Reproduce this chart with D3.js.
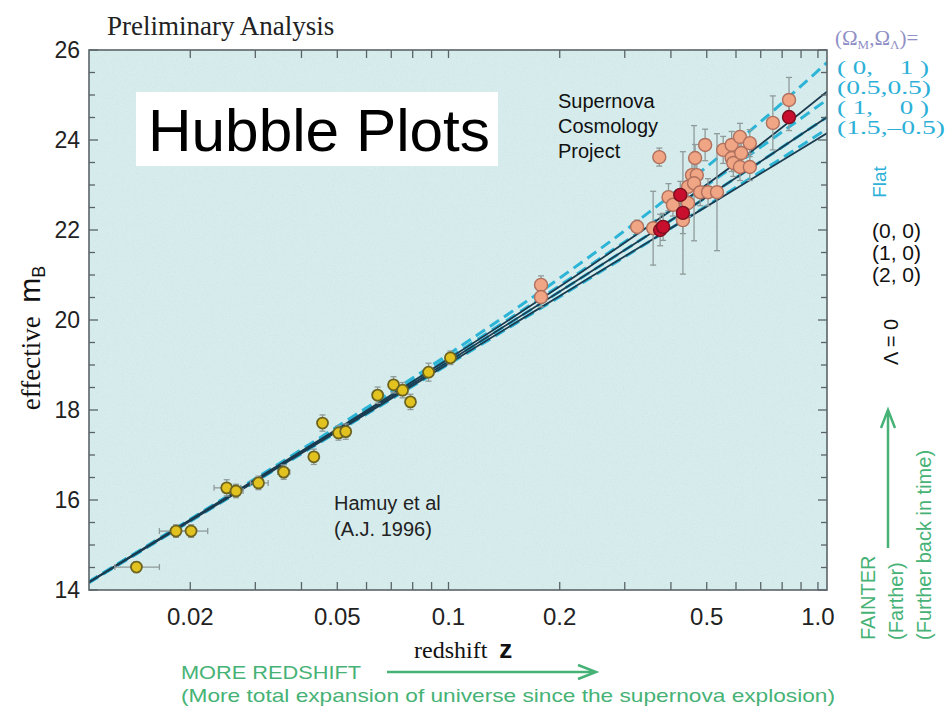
<!DOCTYPE html>
<html>
<head>
<meta charset="utf-8">
<script src="https://cdn.jsdelivr.net/npm/d3@7"></script>
<style>
  body { margin: 0; background: #fff; }
  svg { display: block; }
  text { white-space: pre; }
</style>
</head>
<body>
<script>
// Hubble diagram: effective m_B against redshift z (log axis)

// low-redshift supernovae (Hamuy et al 1996)
const hamuyZ   = [0.0143, 0.0183, 0.0201, 0.0251, 0.0266, 0.0306, 0.0358, 0.0432, 0.0456, 0.0504, 0.0527, 0.0643, 0.0710, 0.0751, 0.0789, 0.0883, 0.1012];
const hamuyM   = [14.51, 15.31, 15.31, 16.27, 16.20, 16.38, 16.62, 16.96, 17.71, 17.49, 17.52, 18.33, 18.56, 18.44, 18.18, 18.84, 19.16];
const hamuyZLo = [0.0125, 0.0165, 0.0186, 0.0232, 0.0255, 0.0291, 0.0345, 0.0420, 0.0445, 0.0492, 0.0515, 0.0628, 0.0695, 0.0737, 0.0775, 0.0866, 0.0995];
const hamuyZHi = [0.0165, 0.0202, 0.0223, 0.0274, 0.0278, 0.0325, 0.0372, 0.0444, 0.0467, 0.0516, 0.0540, 0.0658, 0.0725, 0.0766, 0.0803, 0.0900, 0.1030];
const hamuyErr = [0.12, 0.14, 0.14, 0.18, 0.15, 0.15, 0.16, 0.17, 0.18, 0.16, 0.17, 0.18, 0.18, 0.17, 0.17, 0.20, 0.15];

// Supernova Cosmology Project
const scpZ   = [0.178, 0.178, 0.324, 0.358, 0.374, 0.381, 0.372, 0.394, 0.405, 0.424, 0.431, 0.431, 0.445, 0.445, 0.456, 0.470, 0.465, 0.462, 0.480, 0.495, 0.504, 0.533, 0.554, 0.584, 0.615, 0.654, 0.584, 0.590, 0.620, 0.615, 0.654, 0.755, 0.835, 0.835];
const scpM   = [20.78, 20.51, 22.07, 22.04, 22.00, 22.07, 23.62, 22.73, 22.56, 22.78, 22.38, 22.22, 22.60, 22.96, 23.22, 23.22, 23.60, 23.04, 22.84, 23.89, 22.84, 22.84, 23.78, 23.89, 24.07, 23.93, 23.60, 23.49, 23.71, 23.40, 23.40, 24.38, 24.89, 24.51];
const scpErr = [0.20, 0.22, 0.15, 0.82, 0.35, 0.30, 0.20, 0.30, 0.25, 0.30, 1.36, 0.30, 0.30, 0.30, 0.30, 0.30, 0.30, 1.28, 0.30, 0.35, 0.30, 1.30, 0.30, 0.30, 0.30, 0.30, 0.30, 0.30, 0.30, 0.30, 0.30, 0.60, 0.50, 0.30];
const scpRed = [0, 0, 0, 0, 1, 1, 0, 0, 0, 1, 1, 0, 0, 0, 0, 0, 0, 0, 0, 0, 0, 0, 0, 0, 0, 0, 0, 0, 0, 0, 0, 0, 0, 1];

// model curves: (Omega_M, Omega_Lambda)
const curveZ = [0.0106, 0.05, 0.1, 0.2, 0.35, 0.5, 0.7, 1.057];
const m_0_0  = [14.168, 17.578, 19.136, 20.742, 22.100, 23.010, 23.907, 25.072];
const m_1_0  = [14.163, 17.551, 19.079, 20.632, 21.907, 22.734, 23.524, 24.507];
const m_2_0  = [14.157, 17.525, 19.030, 20.535, 21.750, 22.525, 23.255, 24.150];
const m_0_1  = [14.179, 17.631, 19.237, 20.931, 22.402, 23.405, 24.408, 25.717];
const m_h_h  = [14.171, 17.592, 19.155, 20.766, 22.113, 22.996, 23.842, 24.892];
const m_15_m = [14.154, 17.511, 19.014, 20.518, 21.744, 22.537, 23.297, 24.245];

// axes
const xLabelTicks = [0.02, 0.05, 0.1, 0.2, 0.5, 1.0];
const xLabelText  = ["0.02", "0.05", "0.1", "0.2", "0.5", "1.0"];
const xTickMarks  = [0.02, 0.03, 0.04, 0.05, 0.06, 0.07, 0.08, 0.09, 0.1, 0.2, 0.3, 0.4, 0.5, 0.6, 0.7, 0.8, 0.9, 1.0];
const yLabelTicks = [14, 16, 18, 20, 22, 24, 26];
const yMinorTicks = d3.range(14, 26.01, 0.5);

// legend text
const flatLabels = ["( 0,    1 )", "(0.5,0.5)", "( 1,    0 )", "(1.5,\u20130.5)"];
const flatWidths = [92, 94, 92, 108];
const openLabels = ["(0, 0)", "(1, 0)", "(2, 0)"];

const width = 949, height = 711;
const pLeft = 89, pRight = 827, pTop = 50, pBottom = 590;

const x = d3.scaleLog().domain([0.01064, 1.058]).range([pLeft, pRight]);
const y = d3.scaleLinear().domain([14, 26]).range([pBottom, pTop]);

const svg = d3.select("body").append("svg")
  .attr("width", width)
  .attr("height", height);

const defs = svg.append("defs");

// grainy texture on the plot background
const grain = defs.append("filter").attr("id", "grain")
  .attr("x", 0).attr("y", 0).attr("width", "100%").attr("height", "100%");
grain.append("feTurbulence")
  .attr("type", "fractalNoise").attr("baseFrequency", 0.9).attr("numOctaves", 2).attr("seed", 4).attr("result", "noise");
grain.append("feColorMatrix").attr("in", "noise").attr("type", "matrix")
  .attr("values", "0 0 0 0 0.55  0 0 0 0 0.65  0 0 0 0 0.66  0 0 0 -1.6 0.85");

defs.append("clipPath").attr("id", "plotclip")
  .append("rect")
  .attr("x", pLeft).attr("y", pTop)
  .attr("width", pRight - pLeft).attr("height", pBottom - pTop);

// background
svg.append("rect")
  .attr("x", pLeft).attr("y", pTop)
  .attr("width", pRight - pLeft).attr("height", pBottom - pTop)
  .attr("fill", "#d7eded");
svg.append("rect")
  .attr("x", pLeft).attr("y", pTop)
  .attr("width", pRight - pLeft).attr("height", pBottom - pTop)
  .attr("fill", "#fff")
  .attr("filter", "url(#grain)")
  .attr("opacity", 0.5);

// "Hubble Plots" white box
svg.append("rect")
  .attr("x", 136).attr("y", 92)
  .attr("width", 362).attr("height", 74)
  .attr("fill", "#fff");
svg.append("text")
  .attr("x", 148).attr("y", 151)
  .attr("font-family", "Liberation Sans, Arial, sans-serif")
  .attr("font-size", 59)
  .attr("textLength", 342).attr("lengthAdjust", "spacingAndGlyphs")
  .attr("fill", "#000")
  .text("Hubble Plots");

// model curves
const plot = svg.append("g").attr("clip-path", "url(#plotclip)");
const line = d3.line()
  .x(d => x(d[0]))
  .y(d => y(d[1]))
  .curve(d3.curveMonotoneX);

const solidCurves = [m_0_0, m_1_0, m_2_0];
const dashedCurves = [m_0_1, m_h_h, m_1_0, m_15_m];

plot.selectAll("path.dashed")
  .data(dashedCurves)
  .join("path")
  .attr("class", "dashed")
  .attr("d", m => line(curveZ.map((z, i) => [z, m[i]])))
  .attr("fill", "none")
  .attr("stroke", "#2cb4d6")
  .attr("stroke-width", 3)
  .attr("stroke-dasharray", "11,6");

plot.selectAll("path.solid")
  .data(solidCurves)
  .join("path")
  .attr("class", "solid")
  .attr("d", m => line(curveZ.map((z, i) => [z, m[i]])))
  .attr("fill", "none")
  .attr("stroke", "#1b3c50")
  .attr("stroke-width", 1.8);

// error bars
const errColor = "#8f9a9a";
const hamuy = hamuyZ.map((z, i) => ({ z, m: hamuyM[i], lo: hamuyZLo[i], hi: hamuyZHi[i], e: hamuyErr[i] }));
const scp = scpZ.map((z, i) => ({ z, m: scpM[i], e: scpErr[i], red: scpRed[i] === 1 }));

const errs = plot.append("g")
  .attr("stroke", errColor)
  .attr("stroke-width", 1.3)
  .attr("fill", "none");

hamuy.forEach(d => {
  const cx = x(d.z), cy = y(d.m);
  errs.append("line").attr("x1", x(d.lo)).attr("x2", x(d.hi)).attr("y1", cy).attr("y2", cy);
  errs.append("line").attr("x1", x(d.lo)).attr("x2", x(d.lo)).attr("y1", cy - 3).attr("y2", cy + 3);
  errs.append("line").attr("x1", x(d.hi)).attr("x2", x(d.hi)).attr("y1", cy - 3).attr("y2", cy + 3);
  errs.append("line").attr("x1", cx).attr("x2", cx).attr("y1", y(d.m + d.e)).attr("y2", y(d.m - d.e));
  errs.append("line").attr("x1", cx - 3).attr("x2", cx + 3).attr("y1", y(d.m + d.e)).attr("y2", y(d.m + d.e));
  errs.append("line").attr("x1", cx - 3).attr("x2", cx + 3).attr("y1", y(d.m - d.e)).attr("y2", y(d.m - d.e));
});

scp.forEach(d => {
  const cx = x(d.z);
  errs.append("line").attr("x1", cx).attr("x2", cx).attr("y1", y(d.m + d.e)).attr("y2", y(d.m - d.e));
  errs.append("line").attr("x1", cx - 3).attr("x2", cx + 3).attr("y1", y(d.m + d.e)).attr("y2", y(d.m + d.e));
  errs.append("line").attr("x1", cx - 3).attr("x2", cx + 3).attr("y1", y(d.m - d.e)).attr("y2", y(d.m - d.e));
});

// points
plot.append("g").selectAll("circle")
  .data(hamuy)
  .join("circle")
  .attr("cx", d => x(d.z))
  .attr("cy", d => y(d.m))
  .attr("r", 5.5)
  .attr("fill", "#e2c21e")
  .attr("stroke", "#6d6420")
  .attr("stroke-width", 1.8);

plot.append("g").selectAll("circle")
  .data(scp.filter(d => !d.red))
  .join("circle")
  .attr("cx", d => x(d.z))
  .attr("cy", d => y(d.m))
  .attr("r", 6.5)
  .attr("fill", "#f0a584")
  .attr("stroke", "#b0705e")
  .attr("stroke-width", 1.4);

plot.append("g").selectAll("circle")
  .data(scp.filter(d => d.red))
  .join("circle")
  .attr("cx", d => x(d.z))
  .attr("cy", d => y(d.m))
  .attr("r", 6.5)
  .attr("fill", "#c8102e")
  .attr("stroke", "#7a1020")
  .attr("stroke-width", 1.4);

// frame and ticks
const axisColor = "#5a6468";
svg.append("rect")
  .attr("x", pLeft).attr("y", pTop)
  .attr("width", pRight - pLeft).attr("height", pBottom - pTop)
  .attr("fill", "none")
  .attr("stroke", axisColor)
  .attr("stroke-width", 1.6);

const ticks = svg.append("g").attr("stroke", axisColor).attr("stroke-width", 1.3);
xTickMarks.forEach(z => {
  ticks.append("line").attr("x1", x(z)).attr("x2", x(z)).attr("y1", pBottom).attr("y2", pBottom - 8);
  ticks.append("line").attr("x1", x(z)).attr("x2", x(z)).attr("y1", pTop).attr("y2", pTop + 8);
});
yMinorTicks.forEach(m => {
  const len = (Math.abs(m % 2) < 1e-6) ? 9 : 6;
  ticks.append("line").attr("x1", pLeft).attr("x2", pLeft + len).attr("y1", y(m)).attr("y2", y(m));
  ticks.append("line").attr("x1", pRight).attr("x2", pRight - len).attr("y1", y(m)).attr("y2", y(m));
});

const sans = "Liberation Sans, Arial, Helvetica, sans-serif";
const serif = "Liberation Serif, Times New Roman, serif";

svg.append("g").selectAll("text")
  .data(xLabelTicks)
  .join("text")
  .attr("x", d => x(d))
  .attr("y", 625)
  .attr("text-anchor", "middle")
  .attr("font-family", sans)
  .attr("font-size", 24)
  .attr("fill", "#222")
  .text((d, i) => xLabelText[i]);

svg.append("g").selectAll("text")
  .data(yLabelTicks)
  .join("text")
  .attr("x", 80)
  .attr("y", d => y(d) + 8)
  .attr("text-anchor", "end")
  .attr("font-family", sans)
  .attr("font-size", 23)
  .attr("fill", "#222")
  .text(d => d);

// titles
svg.append("text")
  .attr("x", 107).attr("y", 35)
  .attr("font-family", serif)
  .attr("font-size", 27)
  .attr("fill", "#222")
  .text("Preliminary Analysis");

const yTitle = svg.append("text")
  .attr("transform", "translate(40,338) rotate(-90)")
  .attr("text-anchor", "middle")
  .attr("fill", "#111");
yTitle.append("tspan").attr("font-family", serif).attr("font-size", 27).text("effective  ");
yTitle.append("tspan").attr("font-family", sans).attr("font-size", 30).text("m");
yTitle.append("tspan").attr("font-family", sans).attr("font-size", 18).attr("dy", 5).text("B");

const xTitle = svg.append("text").attr("x", 414).attr("y", 658).attr("fill", "#111");
xTitle.append("tspan").attr("font-family", serif).attr("font-size", 24).text("redshift  ");
xTitle.append("tspan").attr("font-family", sans).attr("font-size", 26).attr("font-weight", "bold").text("z");

// annotations inside the plot
[["Supernova", 108], ["Cosmology", 133], ["Project", 158]].forEach(([t, yy]) => {
  svg.append("text")
    .attr("x", 558).attr("y", yy)
    .attr("font-family", sans).attr("font-size", 20)
    .attr("fill", "#111")
    .text(t);
});
[["Hamuy et al", 510], ["(A.J. 1996)", 536]].forEach(([t, yy]) => {
  svg.append("text")
    .attr("x", 334).attr("y", yy)
    .attr("font-family", sans).attr("font-size", 20)
    .attr("fill", "#222")
    .text(t);
});

// legend on the right
const legTitle = svg.append("text")
  .attr("x", 835).attr("y", 45)
  .attr("font-family", serif).attr("font-size", 21)
  .attr("fill", "#9090c6");
legTitle.append("tspan").text("(\u03A9");
legTitle.append("tspan").attr("font-size", 13).attr("dy", 4).text("M");
legTitle.append("tspan").attr("dy", -4).text(",\u03A9");
legTitle.append("tspan").attr("font-size", 13).attr("dy", 4).text("\u039B");
legTitle.append("tspan").attr("dy", -4).text(")=");

svg.append("g").selectAll("text")
  .data(flatLabels)
  .join("text")
  .attr("x", 837)
  .attr("y", (d, i) => 74 + i * 20)
  .attr("font-family", serif)
  .attr("font-size", 18)
  .attr("textLength", (d, i) => flatWidths[i])
  .attr("lengthAdjust", "spacingAndGlyphs")
  .attr("fill", "#2cb0d8")
  .text(d => d);

svg.append("text")
  .attr("transform", "translate(886,182) rotate(-90)")
  .attr("text-anchor", "middle")
  .attr("font-family", sans).attr("font-size", 19)
  .attr("fill", "#2cb0d8")
  .text("Flat");

svg.append("g").selectAll("text")
  .data(openLabels)
  .join("text")
  .attr("x", 872)
  .attr("y", (d, i) => 238 + i * 22)
  .attr("font-family", sans)
  .attr("font-size", 21)
  .attr("fill", "#111")
  .text(d => d);

svg.append("text")
  .attr("transform", "translate(898,342) rotate(-90)")
  .attr("text-anchor", "middle")
  .attr("font-family", sans).attr("font-size", 20)
  .attr("fill", "#111")
  .text("\u039B = 0");

// green direction notes
const green = "#46b275";
const notes = svg.append("g").attr("fill", green).attr("font-family", sans);

notes.append("text")
  .attr("x", 181).attr("y", 679)
  .attr("font-size", 19)
  .attr("textLength", 180).attr("lengthAdjust", "spacingAndGlyphs")
  .text("MORE REDSHIFT");
notes.append("text")
  .attr("x", 181).attr("y", 702)
  .attr("font-size", 19)
  .attr("textLength", 654).attr("lengthAdjust", "spacingAndGlyphs")
  .text("(More total expansion of universe since the supernova explosion)");

[["FAINTER", 875], ["(Farther)", 903], ["(Further back in time)", 931]].forEach(([t, xx]) => {
  notes.append("text")
    .attr("transform", `translate(${xx},640) rotate(-90)`)
    .attr("font-size", 20)
    .text(t);
});

const arrows = svg.append("g").attr("stroke", green).attr("fill", "none").attr("stroke-width", 2.5);
arrows.append("line").attr("x1", 387).attr("x2", 594).attr("y1", 672).attr("y2", 672);
arrows.append("path").attr("d", "M578,665 L596,672 L578,679");
arrows.append("line").attr("x1", 888).attr("x2", 888).attr("y1", 548).attr("y2", 412);
arrows.append("path").attr("d", "M881,428 L888,410 L895,428");
</script>
</body>
</html>
